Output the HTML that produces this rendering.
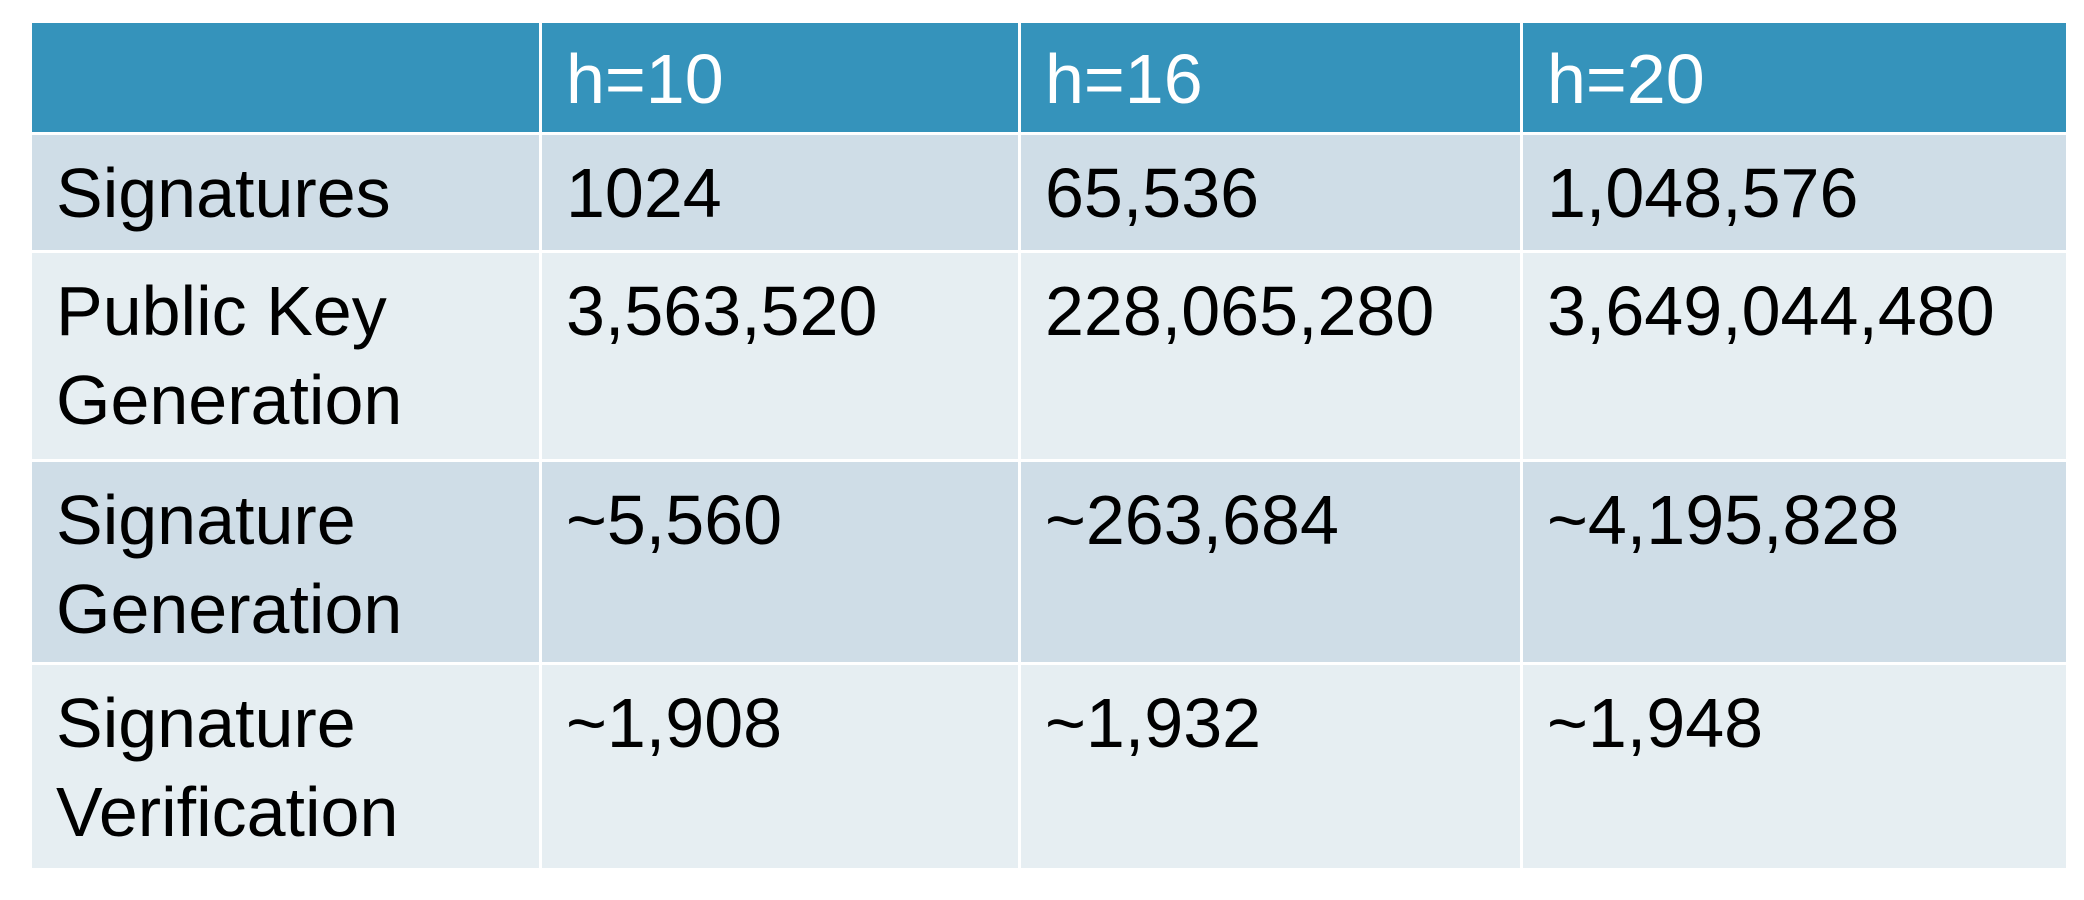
<!DOCTYPE html>
<html><head><meta charset="utf-8"><style>
body{margin:0;width:2084px;height:900px;background:#fff;position:relative;overflow:hidden;font-family:"Liberation Sans",sans-serif;}
.c{position:absolute;box-sizing:border-box;}
.t{position:absolute;font-size:70px;line-height:89px;color:#000;white-space:nowrap;letter-spacing:0px;}
.h{background:#3593bb;}
.h .t{color:#fff}
.a{background:#cfdde7}
.b{background:#e6eef2}
</style></head><body>
<script>
const colHeads=["","h=10","h=16","h=20"];
const rowHeads=["Signatures","Public Key<br>Generation","Signature<br>Generation","Signature<br>Verification"];
const vals=[["1024","65,536","1,048,576"],["3,563,520","228,065,280","3,649,044,480"],["~5,560","~263,684","~4,195,828"],["~1,908","~1,932","~1,948"]];
const xs=[32,540,1019,1521,2066];
const ys=[23,134,252,461,664,868];
function cell(x0,x1,y0,y1,cls,html,name){
  const d=document.createElement('div');
  d.className='c '+cls;
  d.style.left=x0+'px';d.style.top=y0+'px';d.style.width=(x1-x0)+'px';d.style.height=(y1-y0)+'px';
  
  
  const t=document.createElement('div');
  t.className='t';t.style.left='24px';t.style.top=(cls=='h'?'12px':'14px');t.innerHTML=html;
  d.appendChild(t);
  document.body.appendChild(d);
}
for(let c=0;c<4;c++){
  cell(xs[c]+(c?2:0),xs[c+1]-(c<3?1:0),ys[0],ys[1]-2,'h',colHeads[c],'header-cell');
}
for(let r=0;r<4;r++){
  const cls=r%2==0?'a':'b';
  for(let c=0;c<4;c++){
    const html=c==0?rowHeads[r]:vals[r][c-1];
    cell(xs[c]+(c?2:0),xs[c+1]-(c<3?1:0),ys[r+1]+1,ys[r+2]-(r<3?2:0),cls,html,c==0?'row-label':'value-cell');
  }
}
</script>
</body></html>
